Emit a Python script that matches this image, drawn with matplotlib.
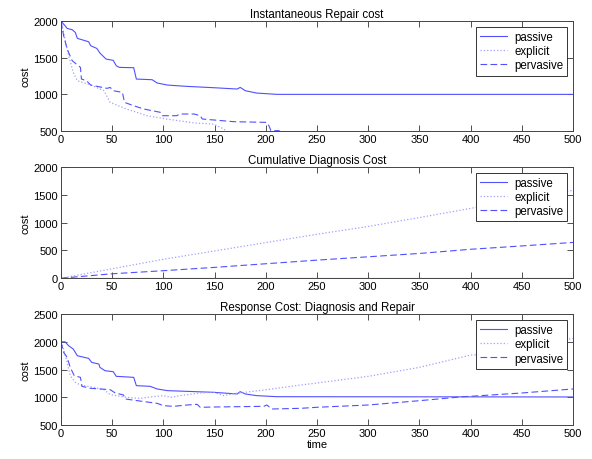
import numpy as np
import matplotlib; matplotlib.use("Agg"); import matplotlib.pyplot as plt

plt.rcParams['font.family'] = ['Liberation Sans', 'DejaVu Sans']
plt.rcParams['font.size'] = 8

# --- instantaneous repair cost ---
t_pas_rep = [0, 4, 6, 11, 14, 16, 27, 29, 35, 38, 44, 51, 54, 57, 71, 73.6, 89, 94, 104, 123, 149, 172, 175, 180, 191, 211, 500]
v_pas_rep = [2000, 1936, 1900, 1882, 1845, 1764, 1718, 1664, 1627, 1564, 1482, 1464, 1391, 1368, 1364, 1209, 1200, 1155, 1127, 1109, 1091, 1073, 1095, 1050, 1018, 1000, 1000]
t_exp_rep = [0, 2.6, 7.5, 12, 16, 29, 42, 48, 64, 84, 103, 130, 149, 159, 162, 170, 500]
v_exp_rep = [2000, 1845, 1527, 1300, 1186, 1127, 1050, 890, 800, 709, 664, 610, 595, 527, 490, 470, 470]
t_per_rep = [0, 2.6, 6, 11, 19, 20, 25, 29, 45, 48, 51, 60, 62, 71, 81, 97, 99, 113, 116, 130, 136, 138, 169, 201, 203, 205, 213, 214, 500]
v_per_rep = [2000, 1800, 1618, 1459, 1368, 1209, 1186, 1127, 1082, 1095, 1050, 1027, 891, 845, 800, 755, 709, 709, 732, 732, 709, 664, 627, 618, 573, 505, 505, 480, 480]

# --- cumulative diagnosis cost ---
t_diag = [0, 50, 100, 150, 200, 250, 300, 350, 400, 450, 500]
v_pas_diag = [0, 0, 0, 0, 0, 0, 0, 0, 0, 0, 0]
v_exp_diag = [0, 170, 340, 490, 640, 790, 930, 1090, 1255, 1420, 1580]
v_per_diag = [0, 80, 135, 195, 260, 325, 385, 445, 520, 580, 643]

# --- response cost: diagnosis and repair ---
t_pas_resp = [0, 4, 7.5, 12, 16, 27, 30, 37, 38, 43, 51, 54, 71, 73.6, 87, 94, 104, 149, 172, 175, 180, 191, 211, 500]
v_pas_resp = [2000, 2000, 1929, 1869, 1749, 1701, 1629, 1599, 1539, 1479, 1461, 1377, 1359, 1209, 1197, 1149, 1119, 1089, 1059, 1101, 1059, 1029, 1010, 1005]
t_exp_resp = [0, 2.6, 6, 9, 14, 19, 32, 42, 48, 64, 77, 87, 100, 107, 116, 136, 149, 159, 169, 201, 234, 250, 300, 350, 400, 410, 450, 500]
v_exp_resp = [2000, 1870, 1630, 1389, 1269, 1221, 1179, 1137, 1047, 998, 980, 1004, 1029, 998, 1029, 1077, 1089, 1029, 1065, 1137, 1221, 1257, 1377, 1539, 1761, 1770, 1900, 2062]
t_per_resp = [0, 2.6, 6, 9, 13, 19, 20.5, 29, 48, 53, 61, 63, 77, 94, 100, 110, 123, 133, 136, 149, 198, 201, 206, 234, 250, 300, 350, 393, 400, 450, 500]
v_per_resp = [2000, 1810, 1720, 1540, 1389, 1359, 1197, 1161, 1137, 1077, 1041, 968, 932, 890, 848, 836, 860, 872, 818, 824, 836, 860, 788, 800, 819, 860, 938, 1010, 1017, 1077, 1149]

labels = ["passive", "explicit", "pervasive"]
titles = ["Instantaneous Repair cost", "Cumulative Diagnosis Cost", "Response Cost: Diagnosis and Repair"]
ylims = [(500, 2000), (0, 2000), (500, 2500)]
yticks = [[500, 1000, 1500, 2000], [0, 500, 1000, 1500, 2000], [500, 1000, 1500, 2000, 2500]]

panels = [
    [(t_pas_rep, v_pas_rep), (t_exp_rep, v_exp_rep), (t_per_rep, v_per_rep)],
    [(t_diag, v_pas_diag), (t_diag, v_exp_diag), (t_diag, v_per_diag)],
    [(t_pas_resp, v_pas_resp), (t_exp_resp, v_exp_resp), (t_per_resp, v_per_resp)],
]
styles = [dict(color="#5050ff", ls="-", lw=0.8),
          dict(color="#a0a0ff", ls=":", lw=0.9),
          dict(color="#5050ff", ls=(0, (6, 3)), lw=0.8)]

fig = plt.figure(figsize=(5.92, 4.60), dpi=100)
rects = [[0.103, 0.713, 0.865, 0.239], [0.103, 0.393, 0.865, 0.242], [0.103, 0.074, 0.865, 0.241]]
for k in range(3):
    ax = fig.add_axes(rects[k])
    for (t, v), st, lab in zip(panels[k], styles, labels):
        ax.plot(t, v, label=lab, **st)
    ax.set_xlim(0, 500); ax.set_ylim(*ylims[k])
    ax.set_xticks(np.arange(0, 501, 50)); ax.set_yticks(yticks[k])
    ax.tick_params(direction="in", top=True, right=True, length=4, width=0.6, colors="#333333", labelcolor="black", labelsize=8, pad=2)
    for s in ax.spines.values():
        s.set_color("#444444"); s.set_linewidth(0.7)
    ax.set_title(titles[k], fontsize=8.3, pad=3)
    ax.set_ylabel("cost", fontsize=8, labelpad=2)
    leg = ax.legend(loc="upper right", fontsize=8.3, fancybox=False, framealpha=1, edgecolor="#333333",
                    handlelength=2.4, labelspacing=0.2, borderaxespad=0.5, borderpad=0.35, handletextpad=0.6)
    leg.get_frame().set_linewidth(0.7)
    if k == 2:
        ax.set_xlabel("time", fontsize=8, labelpad=1)

fig.savefig("out.png", dpi=100)
